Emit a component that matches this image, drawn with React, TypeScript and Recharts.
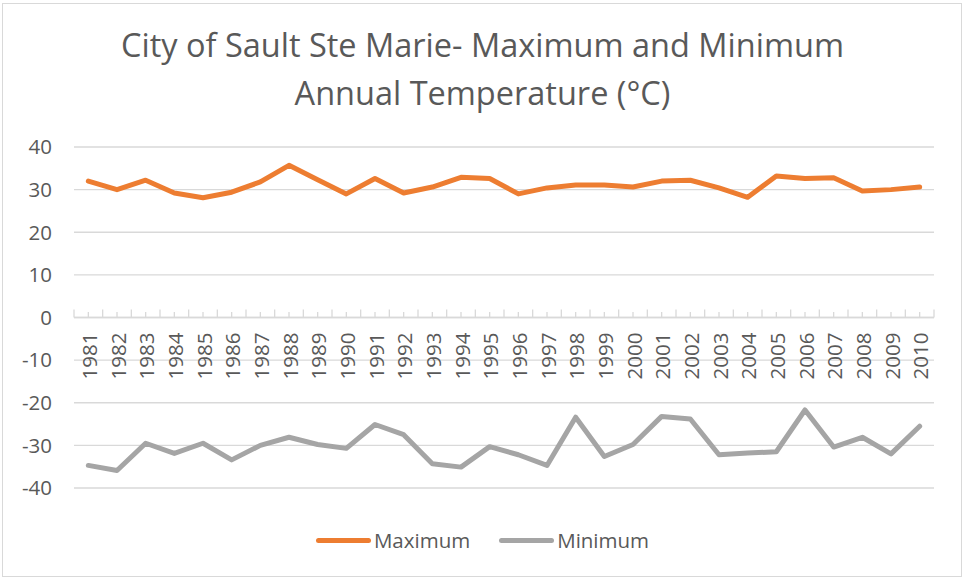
import React from 'react';
import { LineChart, Line, XAxis, YAxis, CartesianGrid, ReferenceLine } from 'recharts';

const YEARS = ['1981','1982','1983','1984','1985','1986','1987','1988','1989','1990','1991','1992','1993','1994','1995','1996','1997','1998','1999','2000','2001','2002','2003','2004','2005','2006','2007','2008','2009','2010'];
const MAXIMUM = [32.0, 30.0, 32.2, 29.2, 28.1, 29.4, 31.8, 35.7, 32.3, 29.0, 32.6, 29.2, 30.6, 32.9, 32.6, 29.0, 30.4, 31.1, 31.1, 30.6, 32.0, 32.2, 30.4, 28.2, 33.2, 32.6, 32.8, 29.7, 30.0, 30.6];
const MINIMUM = [-34.7, -35.9, -29.5, -31.9, -29.5, -33.4, -30.0, -28.1, -29.8, -30.7, -25.1, -27.5, -34.3, -35.1, -30.3, -32.2, -34.7, -23.4, -32.6, -29.8, -23.2, -23.8, -32.2, -31.8, -31.5, -21.7, -30.4, -28.1, -32.0, -25.5];
const Y_TICKS = [-40, -30, -20, -10, 0, 10, 20, 30, 40];
const SERIES = [
  { key: 'Maximum', color: '#ED7D31' },
  { key: 'Minimum', color: '#A5A5A5' },
];
const TITLE_LINES = ['City of Sault Ste Marie- Maximum and Minimum', 'Annual Temperature (°C)'];

const data = YEARS.map((year, i) => ({ year, Maximum: MAXIMUM[i], Minimum: MINIMUM[i] }));

const FONT = '"Open Sans", sans-serif';
const TEXT = '#595959';
const GRID = '#d9d9d9';

function YearAxis(props: any) {
  const vb = props.viewBox || {};
  const x = vb.x, y = vb.y, width = vb.width;
  if (x == null || y == null || width == null) return null;
  const n = YEARS.length;
  const band = width / n;
  return (
    <g>
      {YEARS.map((yr, i) => {
        const bx = x + band * i;
        const cx = bx + band / 2;
        return (
          <g key={yr}>
            <line x1={bx} x2={bx} y1={y} y2={y - 8} stroke={GRID} strokeWidth={1.3} />
            <line x1={cx} x2={cx} y1={y} y2={y - 5.5} stroke={GRID} strokeWidth={1.3} />
            <text
              transform={`translate(${cx},${y + 15}) rotate(-90)`}
              textAnchor="end"
              dy="0.42em"
              fontFamily={FONT}
              fontSize={20.5}
              fill={TEXT}
            >
              {yr}
            </text>
          </g>
        );
      })}
      <line x1={x + width} x2={x + width} y1={y} y2={y - 8} stroke={GRID} strokeWidth={1.3} />
    </g>
  );
}

export default function App() {
  return (
    <div style={{ position: 'absolute', left: 0, top: 0, width: 965, height: 580, background: '#fff' }}>
      <div style={{ position: 'absolute', left: 2, top: 3, width: 958, height: 572, border: `1.5px solid ${GRID}` }} />
      <div
        style={{
          position: 'absolute', left: 0, top: 21, width: 965, textAlign: 'center',
          fontFamily: FONT, fontSize: 32.5, lineHeight: '48px', color: TEXT,
        }}
      >
        {TITLE_LINES.map((t) => (<div key={t}>{t}</div>))}
      </div>
      <div style={{ position: 'absolute', left: 0, top: 0 }}>
        <LineChart width={965} height={580} data={data} margin={{ top: 147, right: 31, left: 0, bottom: 92 }}>
          <CartesianGrid vertical={false} stroke={GRID} strokeWidth={1.3} />
          <XAxis dataKey="year" scale="band" hide />
          <YAxis
            width={74}
            domain={[-40, 40]}
            ticks={Y_TICKS}
            interval={0}
            axisLine={false}
            tickLine={false}
            tickSize={0}
            tickMargin={22}
            tick={{ fontFamily: FONT, fontSize: 20.5, fill: TEXT }}
          />
          <ReferenceLine y={0} stroke={GRID} strokeWidth={1.5} label={<YearAxis />} />
          {SERIES.map((s) => (
            <Line
              key={s.key}
              type="linear"
              dataKey={s.key}
              stroke={s.color}
              strokeWidth={5}
              strokeLinejoin="round"
              strokeLinecap="round"
              dot={false}
              activeDot={false}
              isAnimationActive={false}
            />
          ))}
        </LineChart>
      </div>
      <div
        style={{
          position: 'absolute', left: 0, top: 526, width: 965, display: 'flex', justifyContent: 'center',
          alignItems: 'center', fontFamily: FONT, fontSize: 20.5, color: TEXT, height: 28,
        }}
      >
        {SERIES.map((s, i) => (
          <div key={s.key} style={{ display: 'flex', alignItems: 'center', marginLeft: i === 0 ? 0 : 29 }}>
            <div style={{ width: 55, height: 5, borderRadius: 3, background: s.color, marginRight: 3 }} />
            <span>{s.key}</span>
          </div>
        ))}
      </div>
    </div>
  );
}
